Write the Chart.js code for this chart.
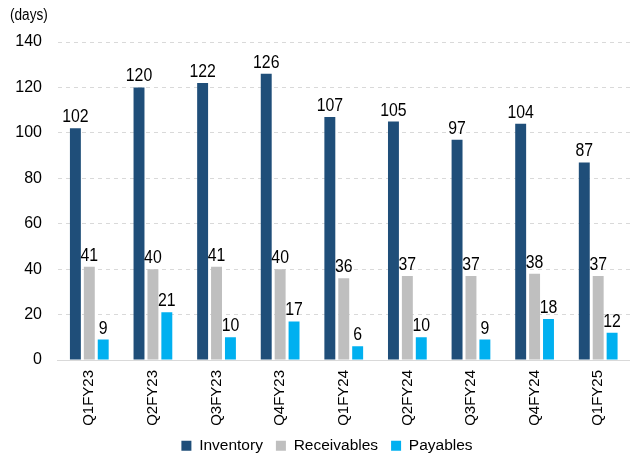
<!DOCTYPE html>
<html>
<head>
<meta charset="utf-8">
<script src="https://cdn.jsdelivr.net/npm/chart.js@4"></script>
<style>
  body { margin: 0; background: #fff; }
  canvas { display: block; }
</style>
</head>
<body>
<canvas id="wcChart" width="630" height="456"></canvas>
<script>
const quarters = ['Q1FY23', 'Q2FY23', 'Q3FY23', 'Q4FY23', 'Q1FY24', 'Q2FY24', 'Q3FY24', 'Q4FY24', 'Q1FY25'];
const inventoryDays = [102, 120, 122, 126, 107, 105, 97, 104, 87];
const receivableDays = [41, 40, 41, 40, 36, 37, 37, 38, 37];
const payableDays = [9, 21, 10, 17, 6, 10, 9, 18, 12];
const yTicks = [0, 20, 40, 60, 80, 100, 120, 140];

const SANS = '"Liberation Sans", Arial, sans-serif';

// nudge the legend so it sits centred under the bars, near the bottom edge
const legendNudge = {
  id: 'legendNudge',
  afterLayout(chart) {
    const lg = chart.legend;
    const dx = 327 - (lg.left + lg.right) / 2;
    lg.left += dx; lg.right += dx;
    lg.top -= 5; lg.bottom -= 5;
  }
};

// values above each bar + "(days)" unit label
const barValues = {
  id: 'barValues',
  afterDatasetsDraw(chart) {
    const c = chart.ctx;
    c.save();
    c.fillStyle = '#000';
    c.font = '18px ' + SANS;
    c.textAlign = 'center';
    c.textBaseline = 'alphabetic';
    chart.data.datasets.forEach((ds, i) => {
      chart.getDatasetMeta(i).data.forEach((bar, j) => {
        c.save();
        c.translate(bar.x, bar.y - 6);
        c.scale(0.88, 1);
        c.fillText(ds.data[j], 0, 0);
        c.restore();
      });
    });
    c.textAlign = 'left';
    c.textBaseline = 'middle';
    c.font = '16px ' + SANS;
    c.translate(10, 16);
    c.scale(0.85, 1);
    c.fillText('(days)', 0, 0);
    c.restore();
  }
};

new Chart(document.getElementById('wcChart'), {
  type: 'bar',
  data: {
    labels: quarters,
    datasets: [
      { label: 'Inventory', data: inventoryDays, backgroundColor: '#1F4E79' },
      { label: 'Receivables', data: receivableDays, backgroundColor: '#BFBFBF' },
      { label: 'Payables', data: payableDays, backgroundColor: '#00B0F0' }
    ]
  },
  options: {
    responsive: false,
    animation: false,
    datasets: {
      bar: { categoryPercentage: 0.656, barPercentage: 0.786 }
    },
    layout: { padding: { top: 42, left: 0, right: -4, bottom: -12.5 } },
    plugins: {
      tooltip: { enabled: false },
      legend: {
        position: 'bottom',
        labels: {
          color: '#000',
          font: { family: SANS, size: 15.5 },
          boxWidth: 10,
          boxHeight: 10,
          padding: 13
        }
      }
    },
    scales: {
      x: {
        afterFit: axis => { axis.height = 70; },
        grid: { display: false, drawTicks: false },
        border: { color: '#D9D9D9' },
        ticks: {
          color: '#000',
          font: { family: SANS, size: 15 },
          minRotation: 90,
          maxRotation: 90,
          padding: 10
        }
      },
      y: {
        min: 0,
        max: 140,
        afterBuildTicks: axis => { axis.ticks = yTicks.map(v => ({ value: v })); },
        afterFit: axis => { axis.width = 57.5; },
        grid: { color: '#D9D9D9', drawTicks: false },
        border: { display: false, dash: [4, 4] },
        ticks: {
          color: '#000',
          font: { family: SANS, size: 16 },
          padding: 15.5
        }
      }
    }
  },
  plugins: [barValues, legendNudge]
});
</script>
</body>
</html>
